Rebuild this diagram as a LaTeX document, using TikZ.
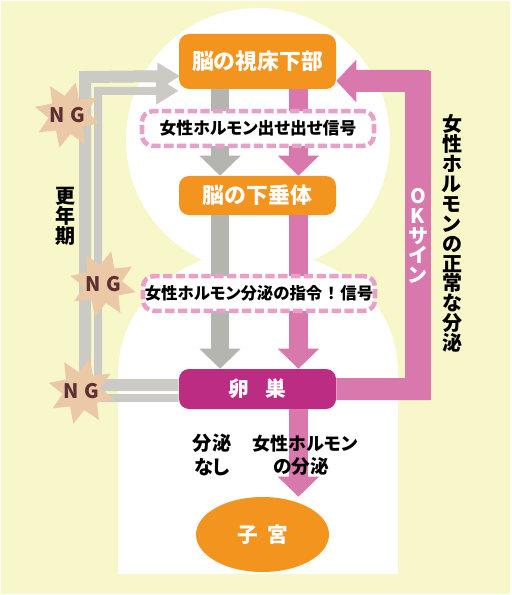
\documentclass[tikz,border=0pt]{standalone}
\usepackage{fontspec}
\setmainfont{Noto Sans CJK JP}[RawFeature=+palt]
\usepackage{tikz}
\usetikzlibrary{shapes.geometric, positioning, arrows.meta, calc}

\definecolor{bgyellow}{HTML}{F8F7CA}
\definecolor{brainorange}{HTML}{F3941E}
\definecolor{ovarymagenta}{HTML}{BC2C83}
\definecolor{signalpink}{HTML}{E8A0C8}
\definecolor{flowpink}{HTML}{D878AC}
\definecolor{flowgray}{HTML}{B5B5B0}
\definecolor{failgray}{HTML}{CCCAC5}
\definecolor{starskin}{HTML}{EBC8A6}
\definecolor{ngbrown}{HTML}{5E2F33}

\newcommand{\ngtext}{\makebox[0pt]{\smash{\raisebox{-0.37em}{N\hspace{0.3em}G}}}}

\begin{document}
\begin{tikzpicture}[
        x=0.75pt, y=-0.75pt,
        font=\bfseries,
        % Styles for the organs and the signals
        organ/.style={
            rectangle, rounded corners=7.5pt, fill=brainorange, text=white,
            minimum width=117.75pt, inner sep=0pt,
            font=\bfseries\fontsize{16.4}{18}\selectfont
        },
        signal/.style={
            rectangle, rounded corners=8pt, draw=signalpink, fill=white,
            line width=3.4pt, dash pattern=on 7pt off 2.6pt,
            minimum width=174pt, minimum height=26pt, inner sep=0pt,
            font=\bfseries\fontsize{12.6}{14}\selectfont
        },
        ngstar/.style={
            star, star points=8, star point ratio=1.75, shape border rotate=-14,
            fill=starskin, minimum size=50.5pt, inner sep=0pt,
            text=ngbrown, font=\bfseries\fontsize{15}{16}\selectfont
        },
        tategaki/.style={
            align=center, inner sep=0pt,
            font=\bfseries\fontsize{15}{14.9}\selectfont
        },
        % Styles for the arrows
        grayflow/.style={
            draw=flowgray, line width=13.5pt,
            -{Triangle[length=15pt, width=30pt]}
        },
        pinkflow/.style={
            draw=flowpink, line width=14pt,
            -{Triangle[length=15pt, width=30pt]}
        },
        okflow/.style={
            draw=flowpink, line width=16.5pt,
            -{Triangle[length=15pt, width=31pt]}
        },
        failflow/.style={
            draw=failgray, -{Triangle[length=17pt, width=19.5pt]}
        }
    ]

    % 1. BACKGROUND AND BODY
    \fill[bgyellow] (1, 1) rectangle (510, 594);
    \useasboundingbox (0, 0) rectangle (511, 595);
    \fill[white] (118, 574) -- (118, 375)
        .. controls (118, 310) and (165, 275) .. (204, 259)
        -- (311, 259)
        .. controls (355, 275) and (398, 310) .. (398, 375)
        -- (398, 574) -- cycle;
    \fill[white] (258, 140) circle[radius=99pt];

    % 2. ORGANS
    \node[organ, minimum height=41.25pt] (hypo) at (257.5, 61.5) {脳の視床下部};
    \node[organ, minimum height=29.25pt] (pit) at (257.5, 195.5) {脳の下垂体};
    \node[organ, minimum height=30pt, fill=ovarymagenta,
          font=\bfseries\fontsize{15.5}{18}\selectfont] (ovary) at (257.5, 389) {卵\hspace{0.8em}巣};
    \node[ellipse, fill=brainorange, text=white, inner sep=0pt,
          minimum width=99.75pt, minimum height=56.25pt,
          font=\bfseries\fontsize{15.5}{18}\selectfont] (uterus) at (262.5, 534.5) {子\hspace{0.45em}宮};

    % 3. ARROWS DOWN THE MIDDLE (they pass behind the signal boxes)
    \draw[grayflow] ([xshift=-28.1pt]hypo.south) -- ([xshift=-28.1pt]pit.north);
    \draw[pinkflow] ([xshift=30.7pt]hypo.south) -- ([xshift=30.7pt]pit.north);
    \draw[grayflow] ([xshift=-28.1pt]pit.south) -- ([xshift=-28.1pt]ovary.north);
    \draw[pinkflow] ([xshift=30.7pt]pit.south) -- ([xshift=30.7pt]ovary.north);
    \draw[pinkflow] ([xshift=30.7pt]ovary.south) -- ([xshift=30.7pt]ovary.south |- uterus.north);

    % 4. SIGNALS
    \node[signal] (signalA) at (258, 128.5) {女性ホルモン出せ出せ信号};
    \node[signal, font=\bfseries\fontsize{12.3}{14}\selectfont] (signalB) at (259, 293.5) {女性ホルモン分泌の指令\hspace*{0.3em}！\hspace*{0.3em}信号};

    % 5. OK LOOP ON THE RIGHT
    \coordinate (okturn) at (418, 81);
    \draw[okflow] (ovary.east) -| (okturn) -- ([yshift=-14.6pt]hypo.east);
    \draw[draw=flowpink, line width=19.5pt] ([yshift=7.5pt]okturn) -- ([yshift=-8pt]okturn |- ovary.east); % a bit wider than the rest
    \node[tategaki, text=white] (oksign) at (418, 236) {O\\K\\サ\\イ\\ン};

    % 6. NG ROUTES ON THE LEFT
    \coordinate (innerlow) at (98, 398);
    \coordinate (innerhigh) at (98, 91);
    \coordinate (outerlow) at (85, 385);
    \coordinate (outerhigh) at (85, 77);
    \draw[failflow, line width=6pt] ([yshift=-6.75pt]ovary.west) -- (innerlow) -- (innerhigh) -- ([yshift=-22pt]hypo.west);
    \draw[failflow, line width=9pt] ([yshift=3pt]ovary.west) -- (outerlow) -- (outerhigh) -- ([xshift=1pt, yshift=-10.9pt]hypo.west);

    \node[ngstar] (ngA) at (67.5, 115) {\ngtext};
    \node[ngstar] (ngB) at (103, 284) {\ngtext};
    \node[ngstar] (ngC) at (81.5, 391) {\ngtext};

    % 7. LABELS
    \node[tategaki] (menopause) at (65, 216) {更\\年\\期};
    \node[tategaki] (normal) at (452, 233.5) {女\\性\\ホ\\ル\\モ\\ン\\の\\正\\常\\な\\分\\泌};
    \node[align=center, font=\bfseries\fontsize{14.5}{17.5}\selectfont] (nosecretion) at (212, 455) {分泌\\なし};
    \node[align=center, font=\bfseries\fontsize{14}{17.5}\selectfont] (secretion) at (305, 455) {{\fontsize{13.5}{17.5}\selectfont 女性ホルモン}\\の分泌\hspace*{6pt}};

\end{tikzpicture}
\end{document}
